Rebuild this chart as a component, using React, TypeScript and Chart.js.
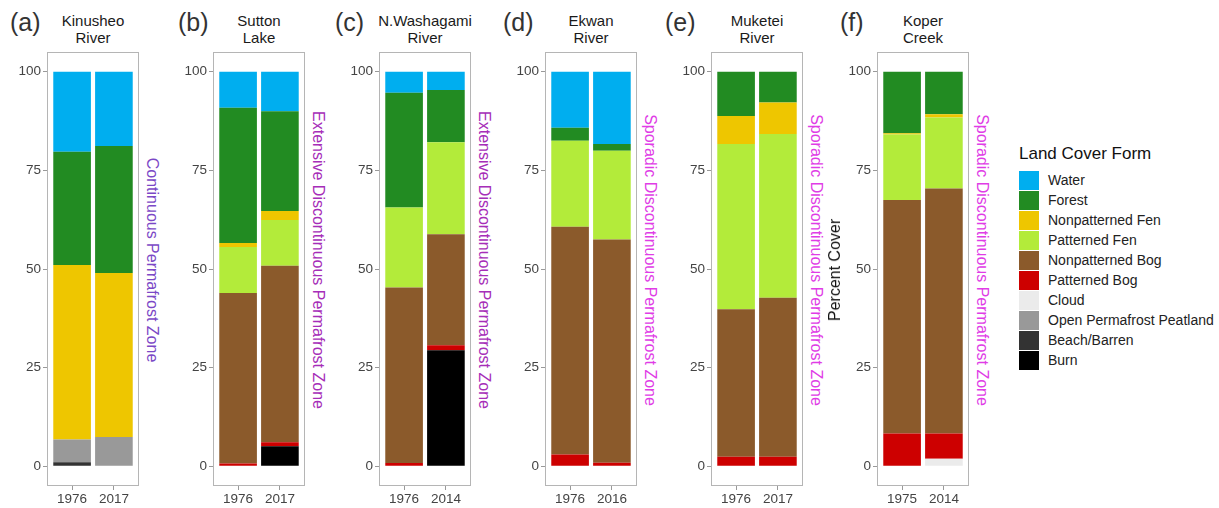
import React, { useEffect, useRef } from 'react';
import { Chart, registerables } from 'chart.js';

Chart.register(...registerables);

const FONT = '"Liberation Sans", Arial, Helvetica, sans-serif';

// Panels
const panelLetters = ['(a)', '(b)', '(c)', '(d)', '(e)', '(f)'];
const panelTitles = [
  ['Kinusheo', 'River'],
  ['Sutton', 'Lake'],
  ['N.Washagami', 'River'],
  ['Ekwan', 'River'],
  ['Muketei', 'River'],
  ['Koper', 'Creek'],
];
const yearLabels = [
  ['1976', '2017'],
  ['1976', '2017'],
  ['1976', '2014'],
  ['1976', '2016'],
  ['1976', '2017'],
  ['1975', '2014'],
];
const zoneLabels = [
  'Continuous Permafrost Zone',
  'Extensive Discontinuous Permafrost Zone',
  'Extensive Discontinuous Permafrost Zone',
  'Sporadic Discontinuous Permafrost Zone',
  'Sporadic Discontinuous Permafrost Zone',
  'Sporadic Discontinuous Permafrost Zone',
];
const zoneColors = ['#7B48C6', '#A62DB8', '#A62DB8', '#E03CE6', '#E03CE6', '#E03CE6'];

const yTicks = [0, 25, 50, 75, 100];

// Land cover values (percent), two bars per panel: a1,a2,b1,b2,c1,c2,d1,d2,e1,e2,f1,f2
const water = [20.3, 18.8, 9.1, 10.0, 5.3, 4.6, 14.2, 18.3, 0, 0, 0, 0];
const forest = [28.7, 32.2, 34.3, 25.3, 29.1, 13.3, 3.3, 1.7, 11.2, 7.8, 15.6, 10.8];
const nonpatternedFen = [44.2, 41.6, 1.0, 2.3, 0, 0, 0, 0, 7.1, 8.0, 0.3, 0.8];
const patternedFen = [0, 0, 11.7, 11.6, 20.3, 23.3, 21.8, 22.5, 41.9, 41.5, 16.6, 18.0];
const nonpatternedBog = [0, 0, 43.2, 44.7, 44.5, 28.1, 57.7, 56.6, 37.4, 40.3, 59.2, 62.1];
const patternedBog = [0, 0, 0.7, 1.0, 0.8, 1.3, 3.0, 0.9, 2.4, 2.4, 8.3, 6.4];
const cloud = [0, 0, 0, 0, 0, 0, 0, 0, 0, 0, 0, 1.9];
const openPermafrostPeatland = [5.8, 7.4, 0, 0, 0, 0, 0, 0, 0, 0, 0, 0];
const beachBarren = [1.0, 0, 0, 0, 0, 0, 0, 0, 0, 0, 0, 0];
const burn = [0, 0, 0, 5.1, 0, 29.4, 0, 0, 0, 0, 0, 0];

// Legend order (top to bottom); stacking is the reverse (Burn at bottom)
const categories = [
  'Water',
  'Forest',
  'Nonpatterned Fen',
  'Patterned Fen',
  'Nonpatterned Bog',
  'Patterned Bog',
  'Cloud',
  'Open Permafrost Peatland',
  'Beach/Barren',
  'Burn',
];
const categoryColors = [
  '#00AEEF',
  '#228B22',
  '#EEC600',
  '#B3EB3A',
  '#8B5A2B',
  '#CD0000',
  '#EBEBEB',
  '#999999',
  '#333333',
  '#000000',
];
const categoryValues = [
  water,
  forest,
  nonpatternedFen,
  patternedFen,
  nonpatternedBog,
  patternedBog,
  cloud,
  openPermafrostPeatland,
  beachBarren,
  burn,
];

// Layout
const FRAME_W = 92;
const Y_AXIS_W = 45;
const X_AXIS_H = 22;
const CANVAS_TOP = 40;
const PAD_TOP = 12;
const CANVAS_H = 468;
const frameLeft = (i: number) => 47 + 166 * i;

const framePlugin = {
  id: 'frame',
  afterDraw(chart: any) {
    const { ctx, chartArea } = chart;
    ctx.save();
    ctx.strokeStyle = '#b5b5b5';
    ctx.lineWidth = 1;
    ctx.strokeRect(
      Math.round(chartArea.left) + 0.5,
      Math.round(chartArea.top) + 0.5,
      Math.round(chartArea.right - chartArea.left) - 1,
      Math.round(chartArea.bottom - chartArea.top) - 1
    );
    ctx.restore();
  },
};

function Panel({ idx }: { idx: number }) {
  const ref = useRef<HTMLCanvasElement | null>(null);
  useEffect(() => {
    if (!ref.current) return;
    const order = categories.map((_, k) => k).reverse();
    const datasets = order.map((k) => ({
      label: categories[k],
      data: [
        { x: 1, y: categoryValues[k][idx * 2] },
        { x: 2, y: categoryValues[k][idx * 2 + 1] },
      ],
      backgroundColor: categoryColors[k],
      borderWidth: 0,
      barPercentage: 0.9,
      categoryPercentage: 1,
    }));
    const chart = new Chart(ref.current, {
      type: 'bar',
      data: { datasets } as any,
      options: {
        animation: false,
        responsive: false,
        maintainAspectRatio: false,
        layout: { padding: { top: PAD_TOP, right: 2, left: 0, bottom: 0 } },
        plugins: { legend: { display: false }, tooltip: { enabled: false } },
        scales: {
          x: {
            type: 'linear',
            stacked: true,
            offset: false,
            min: 0.4,
            max: 2.6,
            afterBuildTicks: (s: any) => {
              s.ticks = [{ value: 1 }, { value: 2 }];
            },
            afterFit: (s: any) => {
              s.height = X_AXIS_H;
            },
            ticks: {
              callback: (v: any) => yearLabels[idx][Math.round(v) - 1],
              color: '#444444',
              font: { size: 13.5, family: FONT },
              padding: 1,
              maxRotation: 0,
              autoSkip: false,
            },
            grid: {
              offset: false,
              drawOnChartArea: false,
              drawTicks: true,
              tickLength: 4,
              tickColor: '#999999',
            },
            border: { display: false },
          },
          y: {
            type: 'linear',
            stacked: true,
            min: -5,
            max: 105,
            afterBuildTicks: (s: any) => {
              s.ticks = yTicks.map((v) => ({ value: v }));
            },
            afterFit: (s: any) => {
              s.width = Y_AXIS_W;
            },
            ticks: {
              color: '#444444',
              font: { size: 13.5, family: FONT },
              padding: 2,
              autoSkip: false,
            },
            grid: { drawOnChartArea: false, drawTicks: true, tickLength: 4, tickColor: '#999999' },
            border: { display: false },
          },
        },
      } as any,
      plugins: [framePlugin],
    });
    return () => chart.destroy();
  }, [idx]);

  const left = frameLeft(idx);
  const w = Y_AXIS_W + FRAME_W + 2;
  return (
    <canvas
      ref={ref}
      width={w}
      height={CANVAS_H}
      style={{ position: 'absolute', left: left - Y_AXIS_W, top: CANVAS_TOP, width: w, height: CANVAS_H }}
    />
  );
}

const letterLefts = [10, 178, 335, 503, 665, 840];

export default function App() {
  return (
    <div
      style={{
        position: 'absolute',
        left: 0,
        top: 0,
        width: 1219,
        height: 508,
        overflow: 'hidden',
        background: '#ffffff',
        fontFamily: FONT,
      }}
    >
      {panelLetters.map((l, i) => (
        <div
          key={'l' + i}
          style={{
            position: 'absolute',
            left: letterLefts[i],
            top: 9,
            fontSize: 25,
            lineHeight: '26px',
            color: '#333333',
            whiteSpace: 'nowrap',
          }}
        >
          {l}
        </div>
      ))}
      {panelTitles.map((t, i) => (
        <div
          key={'t' + i}
          style={{
            position: 'absolute',
            left: frameLeft(i) + FRAME_W / 2 - 80,
            width: 160,
            top: 11.5,
            fontSize: 15,
            lineHeight: '17px',
            color: '#1a1a1a',
            textAlign: 'center',
          }}
        >
          {t[0]}
          <br />
          {t[1]}
        </div>
      ))}
      {[0, 1, 2, 3, 4, 5].map((i) => (
        <Panel key={'p' + i} idx={i} />
      ))}
      {zoneLabels.map((z, i) => (
        <div
          key={'z' + i}
          style={{
            position: 'absolute',
            left: frameLeft(i) + FRAME_W + 13,
            top: 260,
            fontSize: 16,
            lineHeight: '18px',
            color: zoneColors[i],
            whiteSpace: 'nowrap',
            transform: 'translate(-50%, -50%) rotate(90deg)',
          }}
        >
          {z}
        </div>
      ))}
      <div
        style={{
          position: 'absolute',
          left: 835,
          top: 270,
          fontSize: 16,
          lineHeight: '18px',
          color: '#111111',
          whiteSpace: 'nowrap',
          transform: 'translate(-50%, -50%) rotate(-90deg)',
        }}
      >
        Percent Cover
      </div>
      <div
        style={{
          position: 'absolute',
          left: 1019,
          top: 144,
          fontSize: 17,
          lineHeight: '20px',
          color: '#111111',
          whiteSpace: 'nowrap',
        }}
      >
        Land Cover Form
      </div>
      {categories.map((c, k) => (
        <React.Fragment key={'g' + k}>
          <div
            style={{
              position: 'absolute',
              left: 1019,
              top: 170.5 + 20 * k,
              width: 20,
              height: 19,
              background: categoryColors[k],
            }}
          />
          <div
            style={{
              position: 'absolute',
              left: 1048,
              top: 170.5 + 20 * k,
              height: 19,
              fontSize: 14,
              lineHeight: '19px',
              color: '#222222',
              whiteSpace: 'nowrap',
            }}
          >
            {c}
          </div>
        </React.Fragment>
      ))}
    </div>
  );
}
